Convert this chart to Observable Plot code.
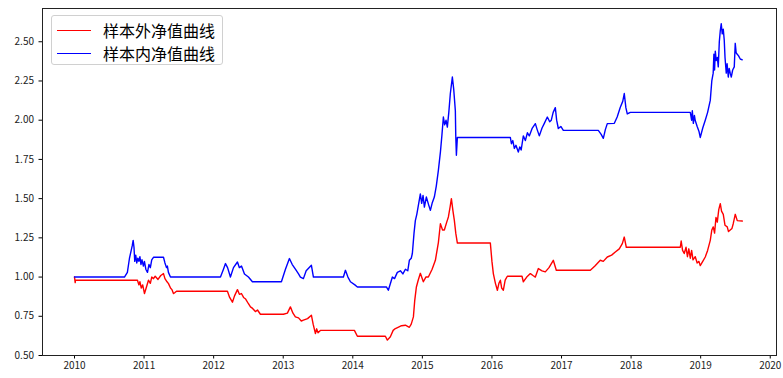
<!DOCTYPE html>
<html>
<head>
<meta charset="utf-8">
<script src="https://cdn.jsdelivr.net/npm/d3@7"></script>
<script src="https://cdn.jsdelivr.net/npm/@observablehq/plot@0.6"></script>
<style>
  html, body { margin: 0; padding: 0; background: #fff; }
  #wrap { position: relative; width: 783px; height: 378px; }
  #legend {
    position: absolute; left: 51px; top: 15px; width: 172px; height: 50px;
    border: 1px solid #d0d0d0; border-radius: 3px; background: rgba(255,255,255,0.8);
    font-family: "Noto Sans CJK SC", sans-serif; font-size: 16px; box-sizing: border-box;
  }
  .row { position: absolute; left: 0; height: 20px; }
  .swatch { position: absolute; left: 5px; width: 34px; height: 0; }
  .lbl { position: absolute; left: 51px; white-space: nowrap; line-height: 20px; color: #000; }
</style>
</head>
<body>
<div id="wrap">
  <div id="chart"></div>
  <div id="legend"></div>
</div>
<script>
// Series names
const seriesNames = ["样本外净值曲线", "样本内净值曲线"];
const seriesColors = ["#ff0000", "#0000ff"];

// Out-of-sample (red): decimal year, net value
const outYears = [
  2010.000, 2010.010, 2010.014, 2010.905, 2010.925, 2010.940, 2010.960, 2010.980, 2011.006, 2011.030,
  2011.063, 2011.090, 2011.110, 2011.135, 2011.160, 2011.200, 2011.240, 2011.279, 2011.300, 2011.330,
  2011.351, 2011.380, 2011.400, 2011.422, 2011.440, 2011.466,
  2012.198, 2012.230, 2012.270, 2012.300, 2012.342, 2012.370, 2012.399, 2012.430, 2012.460, 2012.500,
  2012.529, 2012.560, 2012.600, 2012.630, 2012.672,
  2013.003, 2013.060, 2013.103, 2013.140, 2013.175, 2013.220, 2013.260, 2013.290, 2013.350, 2013.405,
  2013.430, 2013.463, 2013.480, 2013.500, 2013.534, 2014.023, 2014.066, 2014.468,
  2014.497, 2014.540, 2014.580, 2014.612, 2014.650, 2014.700, 2014.756, 2014.813, 2014.840, 2014.871,
  2014.890, 2014.914, 2014.940, 2014.971, 2015.014, 2015.050, 2015.086, 2015.140, 2015.187, 2015.230,
  2015.259, 2015.290, 2015.316, 2015.350, 2015.374, 2015.400, 2015.417, 2015.440, 2015.460, 2015.480,
  2015.503, 2015.977, 2016.000, 2016.020, 2016.050, 2016.078, 2016.100, 2016.121, 2016.140, 2016.164,
  2016.190, 2016.221, 2016.432, 2016.451, 2016.500, 2016.552, 2016.590, 2016.624, 2016.667, 2016.720,
  2016.767, 2016.820, 2016.882, 2016.925, 2017.414, 2017.480, 2017.557, 2017.600, 2017.658, 2017.720,
  2017.773, 2017.830, 2017.874, 2017.902, 2017.931, 2018.707, 2018.720, 2018.740, 2018.764, 2018.790,
  2018.810, 2018.830, 2018.851, 2018.870, 2018.890, 2018.922, 2018.950, 2018.975, 2018.994, 2019.030,
  2019.066, 2019.100, 2019.138, 2019.160, 2019.181, 2019.200, 2019.220, 2019.239, 2019.260, 2019.282,
  2019.300, 2019.325, 2019.350, 2019.382, 2019.400, 2019.425, 2019.450, 2019.468, 2019.497, 2019.526,
  2019.598];
const outValues = [
  1.000, 0.965, 0.980, 0.980, 0.950, 0.970, 0.930, 0.950, 0.895, 0.930,
  0.980, 0.960, 1.000, 0.990, 1.005, 0.985, 1.010, 1.022, 0.990, 0.970,
  0.958, 0.930, 0.920, 0.895, 0.900, 0.910,
  0.910, 0.870, 0.840, 0.880, 0.920, 0.890, 0.895, 0.870, 0.860, 0.830,
  0.810, 0.800, 0.780, 0.790, 0.763,
  0.763, 0.770, 0.810, 0.770, 0.746, 0.740, 0.720, 0.725, 0.735, 0.757,
  0.700, 0.640, 0.670, 0.645, 0.660, 0.660, 0.623, 0.623,
  0.598, 0.620, 0.660, 0.672, 0.680, 0.690, 0.693, 0.680, 0.700, 0.746,
  0.850, 0.937, 0.980, 1.024, 0.970, 1.000, 1.000, 1.050, 1.107, 1.220,
  1.340, 1.300, 1.300, 1.350, 1.383, 1.450, 1.500, 1.420, 1.360, 1.280,
  1.217, 1.217, 1.100, 1.022, 0.960, 0.916, 0.960, 0.980, 0.930, 0.916,
  0.980, 1.005, 1.005, 0.970, 1.000, 1.022, 1.010, 1.000, 1.054, 1.040,
  1.033, 1.060, 1.107, 1.043, 1.043, 1.070, 1.107, 1.100, 1.128, 1.140,
  1.160, 1.180, 1.213, 1.255, 1.190, 1.190, 1.230, 1.170, 1.150, 1.190,
  1.130, 1.180, 1.120, 1.170, 1.110, 1.130, 1.090, 1.100, 1.073, 1.100,
  1.128, 1.170, 1.234, 1.300, 1.320, 1.280, 1.380, 1.350, 1.430, 1.468,
  1.420, 1.400, 1.330, 1.320, 1.290, 1.300, 1.310, 1.340, 1.400, 1.360,
  1.357];

// In-sample (blue): decimal year, net value
const inYears = [
  2010.000, 2010.718, 2010.760, 2010.790, 2010.815, 2010.830, 2010.843, 2010.855, 2010.866, 2010.880,
  2010.895, 2010.910, 2010.925, 2010.940, 2010.955, 2010.970, 2010.990, 2011.005, 2011.025, 2011.049,
  2011.070, 2011.090, 2011.110, 2011.135, 2011.279, 2011.300, 2011.322, 2011.335, 2011.350, 2011.379,
  2012.098, 2012.141, 2012.170, 2012.200, 2012.241, 2012.285, 2012.342, 2012.370, 2012.400, 2012.443,
  2012.500, 2012.557, 2012.974, 2013.032, 2013.089, 2013.130, 2013.175, 2013.220, 2013.247, 2013.290,
  2013.330, 2013.405, 2013.434, 2013.865, 2013.894, 2013.930, 2013.966, 2014.030, 2014.066, 2014.483,
  2014.511, 2014.569, 2014.600, 2014.640, 2014.684, 2014.720, 2014.756, 2014.790, 2014.813, 2014.840,
  2014.856, 2014.880, 2014.899, 2014.920, 2014.940, 2014.971, 2014.990, 2015.010, 2015.029, 2015.057,
  2015.090, 2015.115, 2015.140, 2015.172, 2015.200, 2015.230, 2015.260, 2015.280, 2015.302, 2015.320,
  2015.340, 2015.359, 2015.380, 2015.402, 2015.431, 2015.450, 2015.474, 2015.480, 2015.489, 2015.503,
  2016.264, 2016.280, 2016.300, 2016.322, 2016.345, 2016.379, 2016.400, 2016.420, 2016.451, 2016.480,
  2016.510, 2016.537, 2016.580, 2016.624, 2016.650, 2016.681, 2016.720, 2016.753, 2016.796, 2016.830,
  2016.853, 2016.880, 2016.911, 2016.930, 2016.954, 2016.990, 2017.026, 2017.529, 2017.570, 2017.601,
  2017.630, 2017.658, 2017.759, 2017.800, 2017.845, 2017.880, 2017.902, 2017.925, 2017.945, 2017.989,
  2018.851, 2018.870, 2018.880, 2018.895, 2018.910, 2018.922, 2018.950, 2018.975, 2018.994, 2019.030,
  2019.066, 2019.100, 2019.138, 2019.160, 2019.180, 2019.190, 2019.200, 2019.210, 2019.224, 2019.240,
  2019.253, 2019.268, 2019.282, 2019.296, 2019.310, 2019.325, 2019.339, 2019.350, 2019.368, 2019.380,
  2019.397, 2019.410, 2019.425, 2019.440, 2019.460, 2019.483, 2019.497, 2019.510, 2019.526, 2019.545,
  2019.569, 2019.598];
const inValues = [
  1.000, 1.000, 1.030, 1.120, 1.170, 1.200, 1.234, 1.190, 1.100, 1.140,
  1.090, 1.120, 1.100, 1.130, 1.080, 1.110, 1.070, 1.100, 1.050, 1.030,
  1.080, 1.060, 1.110, 1.126, 1.126, 1.090, 1.060, 1.070, 1.030, 1.000,
  1.000, 1.050, 1.086, 1.060, 1.000, 1.060, 1.096, 1.060, 1.070, 1.020,
  1.000, 0.970, 0.970, 1.050, 1.118, 1.080, 1.050, 1.020, 1.000, 0.990,
  1.040, 1.075, 1.000, 1.000, 1.043, 1.000, 0.970, 0.950, 0.937, 0.937,
  0.916, 1.000, 0.990, 1.030, 1.040, 1.020, 1.050, 1.040, 1.107, 1.120,
  1.150, 1.280, 1.360, 1.400, 1.450, 1.530, 1.470, 1.520, 1.446, 1.510,
  1.460, 1.425, 1.470, 1.510, 1.580, 1.680, 1.800, 1.900, 2.020, 1.970,
  2.000, 1.956, 2.050, 2.170, 2.275, 2.200, 2.060, 1.900, 1.776, 1.890,
  1.890, 1.850, 1.870, 1.820, 1.840, 1.797, 1.830, 1.810, 1.900, 1.870,
  1.920, 1.900, 1.950, 1.978, 1.940, 1.900, 1.950, 1.980, 2.020, 1.990,
  2.000, 2.050, 2.080, 2.000, 1.947, 1.960, 1.935, 1.935, 1.910, 1.884,
  1.940, 1.978, 1.980, 2.020, 2.083, 2.120, 2.170, 2.080, 2.040, 2.050,
  2.050, 2.000, 2.060, 1.980, 2.030, 1.998, 1.960, 1.930, 1.890, 1.950,
  2.000, 2.050, 2.126, 2.250, 2.300, 2.420, 2.320, 2.440, 2.380, 2.400,
  2.340, 2.500, 2.570, 2.615, 2.550, 2.580, 2.510, 2.400, 2.300, 2.360,
  2.275, 2.330, 2.300, 2.275, 2.320, 2.340, 2.490, 2.430, 2.420, 2.410,
  2.390, 2.385];

// Axis ticks
const xTicks = [2010, 2011, 2012, 2013, 2014, 2015, 2016, 2017, 2018, 2019, 2020];
const yTicks = [0.50, 0.75, 1.00, 1.25, 1.50, 1.75, 2.00, 2.25, 2.50];

const outData = outYears.map((t, i) => ({t, v: outValues[i]}));
const inData = inYears.map((t, i) => ({t, v: inValues[i]}));

const font = "'Noto Sans CJK SC', 'DejaVu Sans', sans-serif";

const chart = Plot.plot({
  width: 783,
  height: 378,
  marginLeft: 42,
  marginRight: 7,
  marginTop: 8,
  marginBottom: 23,
  style: {fontFamily: font, fontSize: "10px", color: "#000", background: "#fff", overflow: "visible"},
  x: {domain: [2009.54, 2020.09], label: null},
  y: {domain: [0.5, 2.712], label: null},
  marks: [
    Plot.axisX({ticks: xTicks, tickFormat: d => String(d), tickSize: 3.5, tickPadding: 3, label: null, stroke: "#000", strokeOpacity: 1, color: "#222"}),
    Plot.axisY({ticks: yTicks, tickFormat: d => d.toFixed(2), tickSize: 3.5, tickPadding: 5, label: null, stroke: "#000", strokeOpacity: 1, color: "#222"}),
    Plot.line(outData, {x: "t", y: "v", stroke: seriesColors[0], strokeWidth: 1.4, curve: "linear"}),
    Plot.line(inData, {x: "t", y: "v", stroke: seriesColors[1], strokeWidth: 1.4, curve: "linear"}),
    Plot.frame({stroke: "#222", strokeWidth: 1})
  ]
});
document.getElementById("chart").appendChild(chart);

// Legend
const legend = document.getElementById("legend");
seriesNames.forEach((name, i) => {
  const row = document.createElement("div");
  row.className = "row";
  row.style.top = (4 + i * 23) + "px";
  row.style.width = "170px";
  const sw = document.createElement("div");
  sw.className = "swatch";
  sw.style.top = "10px";
  sw.style.borderTop = "1.3px solid " + seriesColors[i];
  const lb = document.createElement("div");
  lb.className = "lbl";
  lb.style.top = "0px";
  lb.textContent = name;
  row.appendChild(sw);
  row.appendChild(lb);
  legend.appendChild(row);
});
</script>
</body>
</html>
